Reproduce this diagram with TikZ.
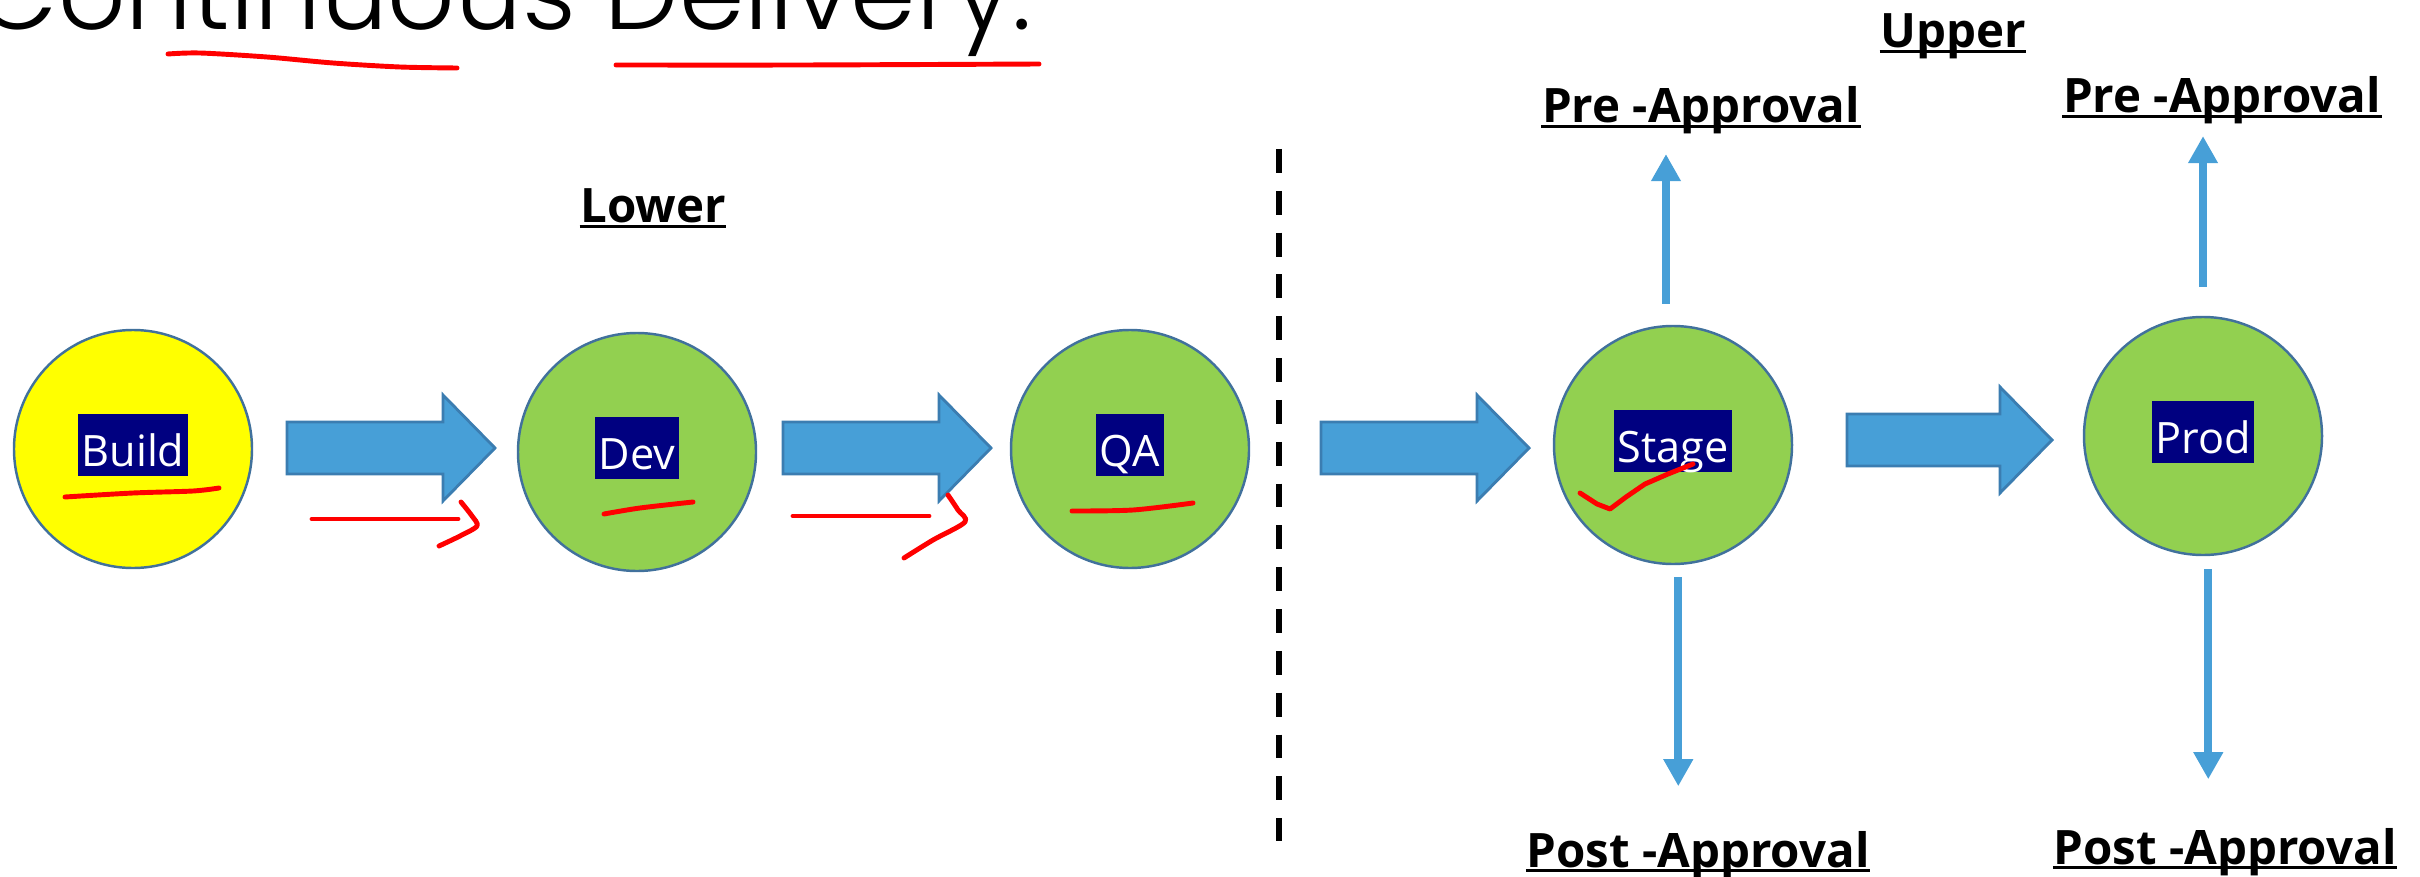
\documentclass[tikz,border=0pt]{standalone}
\usepackage{fontspec}
\setmainfont{Open Sans}
\newfontfamily\titlefont{Poppins}[UprightFont=* Light]
\usepackage{tikz}
\usetikzlibrary{
    arrows.meta,
    positioning,
    calc
}
\definecolor{navyblue}{HTML}{000080}
\definecolor{leafgreen}{HTML}{92D050}
\definecolor{sunyellow}{HTML}{FFFF00}
\definecolor{ringblue}{HTML}{41719C}
\definecolor{arrowblue}{HTML}{479FD7}
\definecolor{arrowedge}{HTML}{3B7DB1}
\definecolor{inkred}{HTML}{FF0000}

\tikzset{
    env/.style={circle, draw=ringblue, line width=0.7pt, minimum size=23.8mm, inner sep=0pt},
    tag/.style={fill=navyblue, text=white, font=\fontsize{12.3}{14}\selectfont,
        inner xsep=1pt, inner ysep=0pt, text height=15.1pt, text depth=2.6pt, yshift=1.2pt},
    heading/.style={font=\fontsize{13.5}{16}\selectfont\bfseries, inner sep=0pt, anchor=base,
        append after command={([yshift=-1.1pt]\tikzlastnode.base west)
            edge[draw=black, line width=0.9pt] ([yshift=-1.1pt]\tikzlastnode.base east)}},
    flow/.style={draw=arrowblue, line width=2.2pt, -{Triangle[length=7.7pt,width=8pt]}},
    fatarrow/.style={fill=arrowblue, draw=arrowedge, line width=0.8pt, line join=miter},
    ink/.style={draw=inkred, line width=1.4pt, line cap=round, line join=round},
    divider/.style={draw=black, line width=1.8pt, dash pattern=on 6.8pt off 5.1pt}
}

% flecha ancha: cola x, punta x, centro y
\def\shaft{26}
\def\head{53}
\def\tiplen{52}
\newcommand{\bigarrow}[3]{%
    \draw[fatarrow] (#1,#3-\shaft) -- (#2-\tiplen,#3-\shaft) -- (#2-\tiplen,#3-\head)
        -- (#2,#3) -- (#2-\tiplen,#3+\head) -- (#2-\tiplen,#3+\shaft) -- (#1,#3+\shaft) -- cycle;}

\begin{document}
\begin{tikzpicture}[x=0.1mm, y=-0.1mm]

\useasboundingbox (0,0) rectangle (2420,877);

% Titulo
\node[anchor=base east, inner sep=0pt, font=\titlefont\fontsize{30}{36}\selectfont]
    (title) at (1032,30) {Continuous Delivery.};

% Entornos
\node[env, fill=sunyellow] (build) at (133,449) {};
\node[env, fill=leafgreen] (dev) at (637,452) {};
\node[env, fill=leafgreen] (qa) at (1130,449) {};
\node[env, fill=leafgreen] (stage) at (1673,445) {};
\node[env, fill=leafgreen] (prod) at (2203,436) {};

\node[tag] (buildtag) at (build) {Build};
\node[tag] (devtag) at (dev) {Dev};
\node[tag] (qatag) at (qa) {QA};
\node[tag] (stagetag) at (stage) {Stage};
\node[tag] (prodtag) at (prod) {Prod};

% Flechas anchas
\bigarrow{287}{495}{448}
\bigarrow{783}{991}{448}
\bigarrow{1321}{1529}{448}
\bigarrow{1847}{2052}{440}

% Separador
\draw[divider] (1279,149) -- (1279,841);

% Etiquetas
\node[heading] (lower) at (653,223) {Lower};
\node[heading] (upper) at (1953,48) {Upper};
\node[heading] (stagepre) at (1701,123) {Pre -Approval};
\node[heading] (prodpre) at (2222,113) {Pre -Approval};
\node[heading] (stagepost) at (1698,867) {Post -Approval};
\node[heading] (prodpost) at (2225,864) {Post -Approval};

% Aprobaciones
\draw[flow, shorten <=2.1mm, shorten >=1.9mm] ([xshift=-2pt]stage.north) -- ([xshift=-2pt]stage.north |- stagepre.south);
\draw[flow, shorten <=2.9mm, shorten >=1.1mm] (prod.north) -- (prod.north |- prodpre.south);
\draw[flow, shorten <=1.2mm, shorten >=4.4mm] ([xshift=1.5pt]stage.south) -- ([xshift=1.5pt]stage.south |- stagepost.north);
\draw[flow, shorten <=1.3mm, shorten >=4.8mm] ([xshift=1.5pt]prod.south) -- ([xshift=1.5pt]prod.south |- prodpost.north);

% Marcas a mano
\draw[ink] plot[smooth] coordinates {(168,54) (200,53) (267,57) (333,63) (400,67) (457,68)};
\draw[ink] plot[smooth] coordinates {(616,65) (800,65) (1039,64)};
\draw[ink] plot[smooth] coordinates {(65,497) (133,493) (193,491) (219,488)};
\draw[ink] (312,519) -- (458,519);
\draw[ink] plot[smooth] coordinates {(461,502) (472,516) (477,526) (460,536) (439,546)};
\draw[ink] plot[smooth] coordinates {(604,514) (640,508) (693,502)};
\draw[ink] (793,516) -- (929,516);
\draw[ink] plot[smooth] coordinates {(948,495) (958,510) (965,522) (933,540) (904,558)};
\draw[ink] plot[smooth] coordinates {(1072,511) (1133,510) (1193,503)};
\draw[ink] (1580,493) -- (1597,504) -- (1610,509) -- (1626,497) -- (1645,484) -- (1668,474) -- (1693,464);

\end{tikzpicture}
\end{document}
